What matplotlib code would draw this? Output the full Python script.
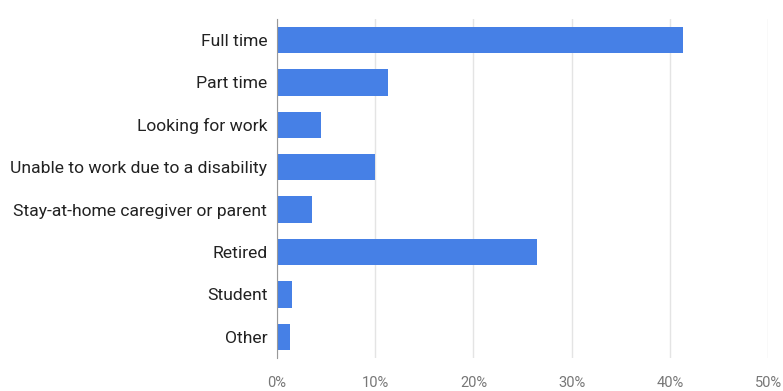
import matplotlib.pyplot as plt
from matplotlib.ticker import FuncFormatter

plt.rcParams['font.family'] = ['Roboto', 'DejaVu Sans']

# Employment status shares (%)
categories = ['Full time', 'Part time', 'Looking for work',
              'Unable to work due to a disability',
              'Stay-at-home caregiver or parent', 'Retired', 'Student', 'Other']
shares = [41.3, 11.3, 4.5, 10.0, 3.6, 26.5, 1.5, 1.35]
x_ticks = [0, 10, 20, 30, 40, 50]

fig = plt.figure(figsize=(7.83, 3.91), dpi=100)
ax = fig.add_axes([0.3538, 0.0844, 0.6272, 0.8676])

ypos = range(len(categories))
ax.barh(ypos, shares, height=0.625, color='#4680e6', zorder=3)

ax.set_ylim(len(categories) - 0.5, -0.5)
ax.set_xlim(0, 50)
ax.set_yticks(list(ypos))
ax.set_yticklabels(categories, fontsize=12.6, color='#222222')
ax.set_xticks(x_ticks)
ax.xaxis.set_major_formatter(FuncFormatter(lambda v, p: f'{v:.0f}%'))
ax.tick_params(axis='x', labelsize=10.5, labelcolor='#777777', length=0, pad=13)
ax.tick_params(axis='y', length=0, pad=7)

ax.grid(axis='x', color='#e4e4e4', linewidth=1, zorder=0)
for s in ['top', 'right', 'bottom']:
    ax.spines[s].set_visible(False)
ax.spines['left'].set_color('#999999')
ax.spines['left'].set_zorder(4)

fig.savefig('out.png', dpi=100)
